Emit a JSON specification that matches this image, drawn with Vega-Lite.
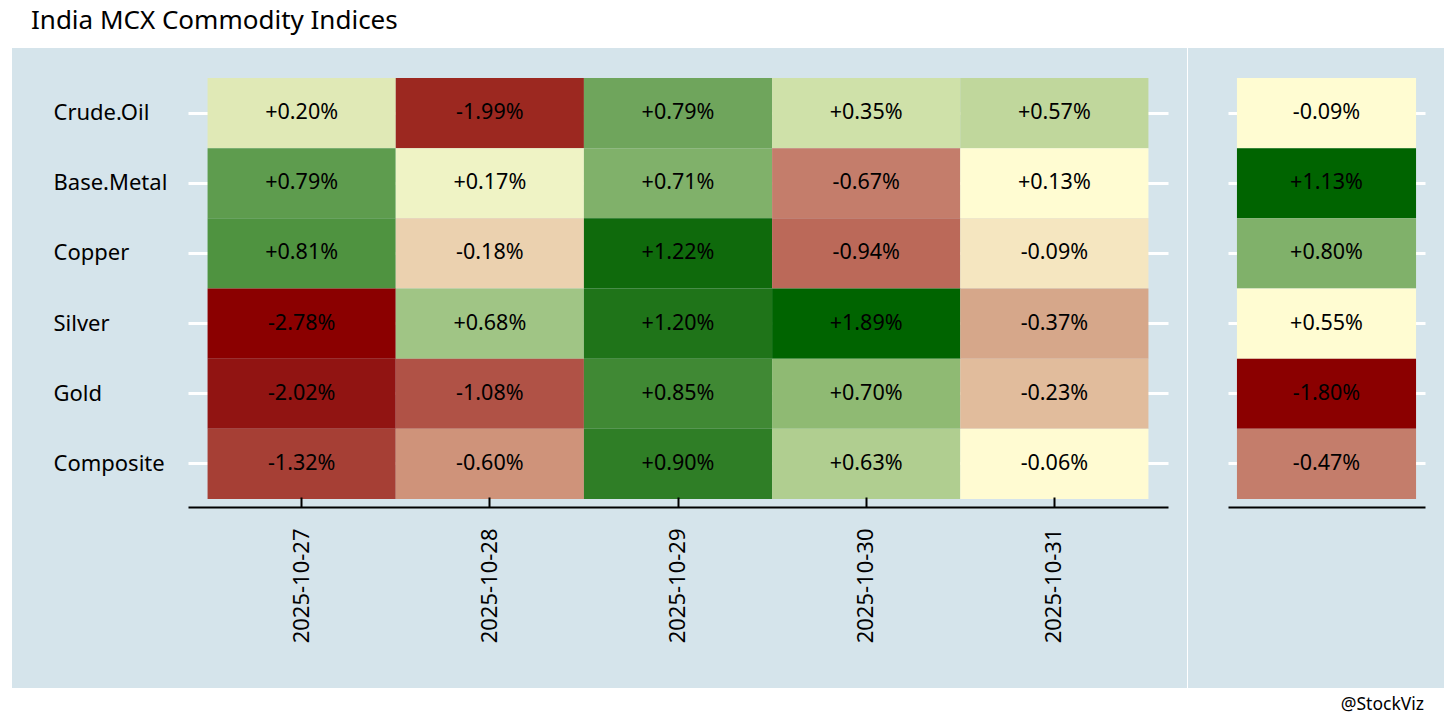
{
  "$schema": "https://vega.github.io/schema/vega-lite/v6.json",
  "autosize": {"type": "pad"},
  "padding": {"left": 12, "top": 8, "right": 12, "bottom": 14},
  "background": "white",
  "title": {
    "text": "India MCX Commodity Indices",
    "anchor": "start",
    "frame": "group",
    "dx": 19,
    "offset": 14,
    "fontSize": 26,
    "fontWeight": "normal",
    "font": "Noto Sans",
    "color": "black"
  },
  "config": {
    "font": "Noto Sans",
    "view": {"fill": "#d5e4eb", "stroke": null},
    "locale": {"number": {"decimal": ".", "thousands": ",", "grouping": [3], "currency": ["$", ""], "minus": "-"}}
  },
  "resolve": {"scale": {"color": "independent", "x": "independent", "y": "independent"}},
  "spacing": 1,
  "hconcat": [
    {
      "width": 1175,
      "height": 640,
      "data": {
        "values": [
          {"commodity": "Crude.Oil", "date": "2025-10-27", "ret": 0.0020},
          {"commodity": "Crude.Oil", "date": "2025-10-28", "ret": -0.0199},
          {"commodity": "Crude.Oil", "date": "2025-10-29", "ret": 0.00786},
          {"commodity": "Crude.Oil", "date": "2025-10-30", "ret": 0.0035},
          {"commodity": "Crude.Oil", "date": "2025-10-31", "ret": 0.0057},
          {"commodity": "Base.Metal", "date": "2025-10-27", "ret": 0.00794},
          {"commodity": "Base.Metal", "date": "2025-10-28", "ret": 0.0017},
          {"commodity": "Base.Metal", "date": "2025-10-29", "ret": 0.0071},
          {"commodity": "Base.Metal", "date": "2025-10-30", "ret": -0.0067},
          {"commodity": "Base.Metal", "date": "2025-10-31", "ret": 0.0013},
          {"commodity": "Copper", "date": "2025-10-27", "ret": 0.0081},
          {"commodity": "Copper", "date": "2025-10-28", "ret": -0.0018},
          {"commodity": "Copper", "date": "2025-10-29", "ret": 0.0122},
          {"commodity": "Copper", "date": "2025-10-30", "ret": -0.0094},
          {"commodity": "Copper", "date": "2025-10-31", "ret": -0.0009},
          {"commodity": "Silver", "date": "2025-10-27", "ret": -0.0278},
          {"commodity": "Silver", "date": "2025-10-28", "ret": 0.0068},
          {"commodity": "Silver", "date": "2025-10-29", "ret": 0.0120},
          {"commodity": "Silver", "date": "2025-10-30", "ret": 0.0189},
          {"commodity": "Silver", "date": "2025-10-31", "ret": -0.0037},
          {"commodity": "Gold", "date": "2025-10-27", "ret": -0.0202},
          {"commodity": "Gold", "date": "2025-10-28", "ret": -0.0108},
          {"commodity": "Gold", "date": "2025-10-29", "ret": 0.0085},
          {"commodity": "Gold", "date": "2025-10-30", "ret": 0.0070},
          {"commodity": "Gold", "date": "2025-10-31", "ret": -0.0023},
          {"commodity": "Composite", "date": "2025-10-27", "ret": -0.0132},
          {"commodity": "Composite", "date": "2025-10-28", "ret": -0.0060},
          {"commodity": "Composite", "date": "2025-10-29", "ret": 0.0090},
          {"commodity": "Composite", "date": "2025-10-30", "ret": 0.0063},
          {"commodity": "Composite", "date": "2025-10-31", "ret": -0.0006}
        ]
      },
      "encoding": {
        "x": {
          "field": "date",
          "type": "ordinal",
          "scale": {"range": [176, 1156], "paddingInner": 0, "paddingOuter": 0.104},
          "axis": {
            "title": null,
            "orient": "bottom",
            "offset": -181,
            "labelAngle": -90,
            "labelFontSize": 22,
            "labelFont": "Noto Sans",
            "labelColor": "black",
            "labelPadding": 31,
            "tickSize": -10,
            "tickWidth": 2,
            "tickColor": "black",
            "domainColor": "black",
            "domainWidth": 2,
            "grid": false,
            "zindex": 1
          }
        },
        "y": {
          "field": "commodity",
          "type": "nominal",
          "sort": ["Crude.Oil", "Base.Metal", "Copper", "Silver", "Gold", "Composite"],
          "scale": {"range": [22, 459], "paddingInner": 0, "paddingOuter": 0.114},
          "axis": {
            "title": null,
            "offset": -41,
            "labelAlign": "left",
            "labelBaseline": "middle",
            "labelPadding": 0,
            "labelFontSize": 22,
            "labelFont": "Noto Sans",
            "labelColor": "black",
            "labelLimit": 400,
            "ticks": false,
            "domain": false,
            "grid": true,
            "gridColor": "white",
            "gridWidth": 3,
            "gridOpacity": 1,
            "zindex": 0
          }
        }
      },
      "layer": [
        {
          "mark": {"type": "rect"},
          "encoding": {
            "color": {
              "field": "ret",
              "type": "ordinal",
              "legend": null,
              "scale": {
                "type": "ordinal",
                "domain": [-0.0278, -0.0202, -0.0199, -0.0132, -0.0108, -0.0094, -0.0067, -0.0060, -0.0037, -0.0023, -0.0018, -0.0009, -0.0006, 0.0013, 0.0017, 0.0020, 0.0035, 0.0057, 0.0063, 0.0068, 0.0070, 0.0071, 0.00786, 0.00794, 0.0081, 0.0085, 0.0090, 0.0120, 0.0122, 0.0189],
                "range": ["#8b0000", "#911412", "#9c2820", "#a63f35", "#b05246", "#bb6959", "#c47d6b", "#cf937a", "#d6a78a", "#e1bc9c", "#ebd1af", "#f5e6c0", "#fffbd2", "#fffcd2", "#eff3c5", "#e0e9b6", "#cfe1a9", "#c0d79c", "#b0ce90", "#a0c585", "#8fba73", "#80b16a", "#6fa55c", "#5e9c4e", "#4f9340", "#408934", "#2f7e26", "#1f7419", "#0f6a0c", "#006400"]
              }
            }
          }
        },
        {
          "mark": {"type": "text", "fontSize": 21.5, "font": "Noto Sans", "color": "black"},
          "encoding": {
            "text": {"field": "ret", "type": "quantitative", "format": "+.2%"}
          }
        }
      ]
    },
    {
      "width": 256,
      "height": 640,
      "title": {
        "text": "@StockViz",
        "orient": "bottom",
        "anchor": "end",
        "dx": -20,
        "offset": 8,
        "fontSize": 17.5,
        "fontWeight": "normal",
        "font": "Noto Sans",
        "color": "black"
      },
      "data": {
        "values": [
          {"commodity": "Crude.Oil", "period": "Week", "ret": -0.0009},
          {"commodity": "Base.Metal", "period": "Week", "ret": 0.0113},
          {"commodity": "Copper", "period": "Week", "ret": 0.0080},
          {"commodity": "Silver", "period": "Week", "ret": 0.0055},
          {"commodity": "Gold", "period": "Week", "ret": -0.0180},
          {"commodity": "Composite", "period": "Week", "ret": -0.0047}
        ]
      },
      "encoding": {
        "x": {
          "field": "period",
          "type": "nominal",
          "scale": {"range": [40, 237], "paddingInner": 0, "paddingOuter": 0.05},
          "axis": {
            "title": null,
            "offset": -181,
            "labels": false,
            "ticks": false,
            "domainColor": "black",
            "domainWidth": 2,
            "grid": false,
            "zindex": 1
          }
        },
        "y": {
          "field": "commodity",
          "type": "nominal",
          "sort": ["Crude.Oil", "Base.Metal", "Copper", "Silver", "Gold", "Composite"],
          "scale": {"range": [22, 459], "paddingInner": 0, "paddingOuter": 0.114},
          "axis": {
            "title": null,
            "labels": false,
            "ticks": false,
            "domain": false,
            "grid": true,
            "gridColor": "white",
            "gridWidth": 3,
            "gridOpacity": 1,
            "zindex": 0
          }
        }
      },
      "layer": [
        {
          "mark": {"type": "rect"},
          "encoding": {
            "color": {
              "field": "ret",
              "type": "ordinal",
              "legend": null,
              "scale": {
                "type": "ordinal",
                "domain": [-0.0180, -0.0047, -0.0009, 0.0055, 0.0080, 0.0113],
                "range": ["#8b0000", "#c47d6b", "#fffcd2", "#fffcd2", "#80b16a", "#006400"]
              }
            }
          }
        },
        {
          "mark": {"type": "text", "fontSize": 21.5, "font": "Noto Sans", "color": "black"},
          "encoding": {
            "text": {"field": "ret", "type": "quantitative", "format": "+.2%"}
          }
        }
      ]
    }
  ]
}
